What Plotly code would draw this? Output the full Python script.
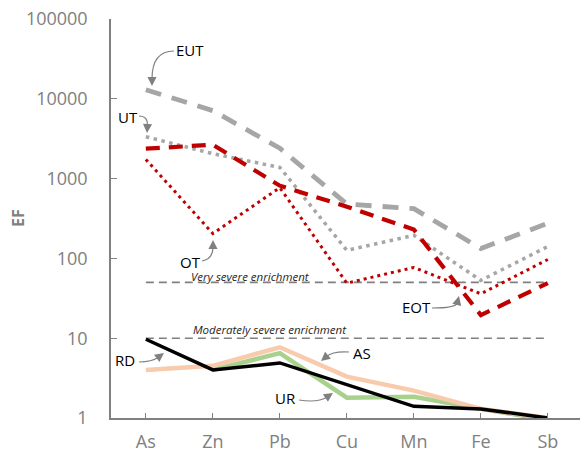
import plotly.graph_objects as go

elements = ["As", "Zn", "Pb", "Cu", "Mn", "Fe", "Sb"]

EUT = [13000, 7100, 2400, 480, 420, 133, 275]
UT = [3350, 2050, 1380, 126, 195, 53, 141]
EOT = [2370, 2660, 815, 445, 230, 19.5, 49]
OT = [1740, 205, 770, 49, 77, 36, 97]
AS = [4.0, 4.5, 7.7, 3.3, 2.2, 1.3, 1.0]
UR = [None, 4.0, 6.5, 1.8, 1.85, 1.3, 0.95]
RD = [9.7, 4.0, 4.9, 2.6, 1.4, 1.3, 1.0]

very_severe = 50
moderately_severe = 10

ytick_vals = [1, 10, 100, 1000, 10000, 100000]
ytick_text = ["1", "10", "100", "1000", "10000", "100000"]

FONT = "Open Sans"
GREY = "#808080"

fig = go.Figure()

# reference lines
for lvl in [very_severe, moderately_severe]:
    fig.add_trace(go.Scatter(x=elements, y=[lvl] * len(elements), mode="lines",
                             line=dict(color=GREY, width=1.6, dash="8px,5px"),
                             hoverinfo="skip", showlegend=False))

fig.add_trace(go.Scatter(x=elements, y=UR, mode="lines", name="UR",
                         line=dict(color="#A9D18E", width=4.5), showlegend=False))
fig.add_trace(go.Scatter(x=elements, y=AS, mode="lines", name="AS",
                         line=dict(color="#F8CBAD", width=4.5), showlegend=False))
fig.add_trace(go.Scatter(x=elements, y=RD, mode="lines", name="RD",
                         line=dict(color="#000000", width=3.5), showlegend=False))

fig.add_trace(go.Scatter(x=elements, y=EUT, mode="lines", name="EUT",
                         line=dict(color="#A6A6A6", width=4.8, dash="16px,11px"), showlegend=False))
fig.add_trace(go.Scatter(x=elements, y=UT, mode="lines", name="UT",
                         line=dict(color="#A6A6A6", width=3.5, dash="3.5px,4.5px"), showlegend=False))
fig.add_trace(go.Scatter(x=elements, y=EOT, mode="lines", name="EOT",
                         line=dict(color="#C00000", width=4.2, dash="14px,9px"), showlegend=False))
fig.add_trace(go.Scatter(x=elements, y=OT, mode="lines", name="OT",
                         line=dict(color="#C00000", width=3, dash="3px,4px"), showlegend=False))

L, R, T, B = 111, 580, 19, 418


def px(x):
    return (x - L) / (R - L)


def py(y):
    return (B - y) / (B - T)


labels = [
    # text, label center, P0, P1, P2
    ("EUT", (190, 50), (174, 51), (152, 51), (152, 86)),
    ("UT", (128, 117), (139, 116), (148, 116), (147, 133)),
    ("OT", (190, 262), (202, 261), (213, 259), (213, 240)),
    ("EOT", (416, 307), (432, 308), (456, 308), (459, 296)),
    ("RD", (125, 360), (139, 362), (152, 362), (164, 353)),
    ("AS", (362, 353), (349, 352), (333, 351), (321, 361)),
    ("UR", (285, 398), (299, 400), (318, 403), (333, 393)),
]

shapes = []
annotations = []
for text, (lx, ly), p0, p1, p2 in labels:
    annotations.append(dict(x=px(lx), y=py(ly), xref="paper", yref="paper",
                            xanchor="center", yanchor="middle",
                            text=text, showarrow=False,
                            font=dict(family=FONT, size=15, color="#000000")))
    dx, dy = p1[0] - p2[0], p1[1] - p2[1]
    n = (dx * dx + dy * dy) ** 0.5
    ax, ay = dx / n * 9, dy / n * 9
    end = (p2[0] + ax * 0.8, p2[1] + ay * 0.8)
    path = "M {},{} Q {},{} {},{}".format(px(p0[0]), py(p0[1]), px(p1[0]), py(p1[1]),
                                          px(end[0]), py(end[1]))
    shapes.append(dict(type="path", path=path, xref="paper", yref="paper",
                       line=dict(color=GREY, width=1.2)))
    annotations.append(dict(x=px(p2[0]), y=py(p2[1]), xref="paper", yref="paper",
                            ax=ax, ay=ay, text="", showarrow=True, arrowhead=2,
                            arrowsize=1.4, arrowwidth=1.3, arrowcolor=GREY))

annotations.append(dict(x=px(250), y=py(276), xref="paper", yref="paper",
                        xanchor="center", yanchor="middle",
                        text="<i>Very severe enrichment</i>", showarrow=False,
                        font=dict(family=FONT, size=11.5, color="#262626")))
annotations.append(dict(x=px(270), y=py(329), xref="paper", yref="paper",
                        xanchor="center", yanchor="middle",
                        text="<i>Moderately severe enrichment</i>", showarrow=False,
                        font=dict(family=FONT, size=11.5, color="#262626")))
annotations.append(dict(x=px(18), y=py(218), xref="paper", yref="paper",
                        text="<b>EF</b>", textangle=-90, showarrow=False,
                        xanchor="center", yanchor="middle",
                        font=dict(family=FONT, size=16, color=GREY)))

fig.update_layout(
    template="none",
    width=581, height=453,
    margin=dict(l=L, r=581 - R, t=T, b=453 - B, autoexpand=False),
    plot_bgcolor="white", paper_bgcolor="white",
    shapes=shapes, annotations=annotations,
    font=dict(family=FONT, color=GREY),
    xaxis=dict(type="category", range=[-0.52, 6.48], showgrid=False, zeroline=False,
               automargin=False,
               showline=True, linecolor=GREY, linewidth=1.5,
               ticks="inside", ticklen=5, tickcolor=GREY, tickwidth=1,
               tickfont=dict(family=FONT, size=18, color=GREY),
               ticklabelstandoff=7),
    yaxis=dict(type="log", range=[0, 5], showgrid=False, zeroline=False,
               automargin=False,
               showline=True, linecolor=GREY, linewidth=1.5,
               ticks="inside", ticklen=6, tickcolor=GREY, tickwidth=1,
               tickvals=ytick_vals, ticktext=ytick_text,
               tickfont=dict(family=FONT, size=18, color=GREY),
               ticklabelstandoff=18),
)

fig.write_html("out.html", config={"displayModeBar": False},
               post_script="document.body.style.margin='0';")
